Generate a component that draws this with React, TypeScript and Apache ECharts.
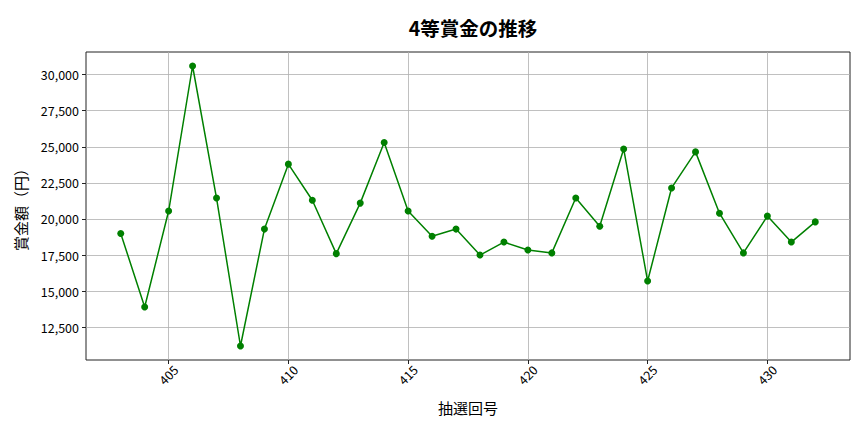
import React, { useEffect, useRef } from 'react';
import * as echarts from 'echarts';

const drawNumbers = [
  403, 404, 405, 406, 407, 408, 409, 410, 411, 412, 413, 414, 415, 416, 417,
  418, 419, 420, 421, 422, 423, 424, 425, 426, 427, 428, 429, 430, 431, 432
];
const prizeValues = [
  19000, 13900, 20550, 30600, 21450, 11200, 19300, 23800, 21300, 17600, 21100, 25300, 20550, 18800, 19300,
  17500, 18400, 17850, 17650, 21450, 19500, 24850, 15700, 22150, 24650, 20400, 17650, 20200, 18400, 19800
];
const xTicks = [405, 410, 415, 420, 425, 430];
const yTicks = [12500, 15000, 17500, 20000, 22500, 25000, 27500, 30000];

const FONT = '"Noto Sans CJK JP", "Noto Sans", sans-serif';

const App: React.FC = () => {
  const chartRef = useRef<HTMLDivElement>(null);

  useEffect(() => {
    if (!chartRef.current) return;
    const chart = echarts.init(chartRef.current, undefined, { renderer: 'svg' });

    const xMin = drawNumbers[0], xMax = drawNumbers[drawNumbers.length - 1];
    const xPad = (xMax - xMin) * 0.05;
    const yMinV = Math.min(...prizeValues), yMaxV = Math.max(...prizeValues);
    const yPad = (yMaxV - yMinV) * 0.05;

    const option: any = {
      animation: false,
      textStyle: { fontFamily: FONT },
      title: {
        text: '4等賞金の推移',
        left: 468,
        textAlign: 'center',
        top: 13,
        textStyle: { fontFamily: FONT, fontSize: 19.5, fontWeight: 'bold', color: '#000' }
      },
      grid: {
        left: 86,
        right: 14,
        top: 52,
        bottom: 72,
        show: true,
        borderColor: '#222',
        borderWidth: 1,
        backgroundColor: 'transparent'
      },
      xAxis: {
        type: 'value',
        min: xMin - xPad,
        max: xMax + xPad,
        name: '抽選回号',
        nameLocation: 'middle',
        nameGap: 40,
        nameTextStyle: { fontFamily: FONT, fontSize: 15, color: '#000' },
        axisLine: { show: false },
        axisTick: { show: true, length: 4, customValues: xTicks, lineStyle: { color: '#222' } },
        axisLabel: {
          customValues: xTicks,
          rotate: 45,
          margin: 15,
          align: 'center',
          verticalAlign: 'middle',
          fontFamily: FONT,
          fontSize: 12.5,
          color: '#000'
        },
        splitLine: { show: true, lineStyle: { color: '#b0b0b0', width: 0.8 } }
      },
      yAxis: {
        type: 'value',
        min: yMinV - yPad,
        max: yMaxV + yPad,
        name: '賞金額（円）',
        nameLocation: 'middle',
        nameGap: 58,
        nameTextStyle: { fontFamily: FONT, fontSize: 15, color: '#000' },
        axisLine: { show: false },
        axisTick: { show: true, length: 4, customValues: yTicks, lineStyle: { color: '#222' } },
        axisLabel: {
          customValues: yTicks,
          margin: 7,
          fontFamily: FONT,
          fontSize: 12.5,
          color: '#000',
          formatter: (v: number) => v.toLocaleString('en-US')
        },
        splitLine: { show: true, lineStyle: { color: '#b0b0b0', width: 0.8 } }
      },
      series: [
        {
          type: 'line',
          data: drawNumbers.map((d, i) => [d, prizeValues[i]]),
          symbol: 'circle',
          symbolSize: 7,
          showSymbol: true,
          lineStyle: { color: '#008000', width: 1.5 },
          itemStyle: { color: '#008000' }
        }
      ]
    };

    chart.setOption(option);

    return () => {
      chart.dispose();
    };
  }, []);

  return (
    <div
      ref={chartRef}
      style={{ position: 'absolute', left: 0, top: 0, width: 864, height: 432, background: '#fff' }}
    />
  );
};

export default App;
